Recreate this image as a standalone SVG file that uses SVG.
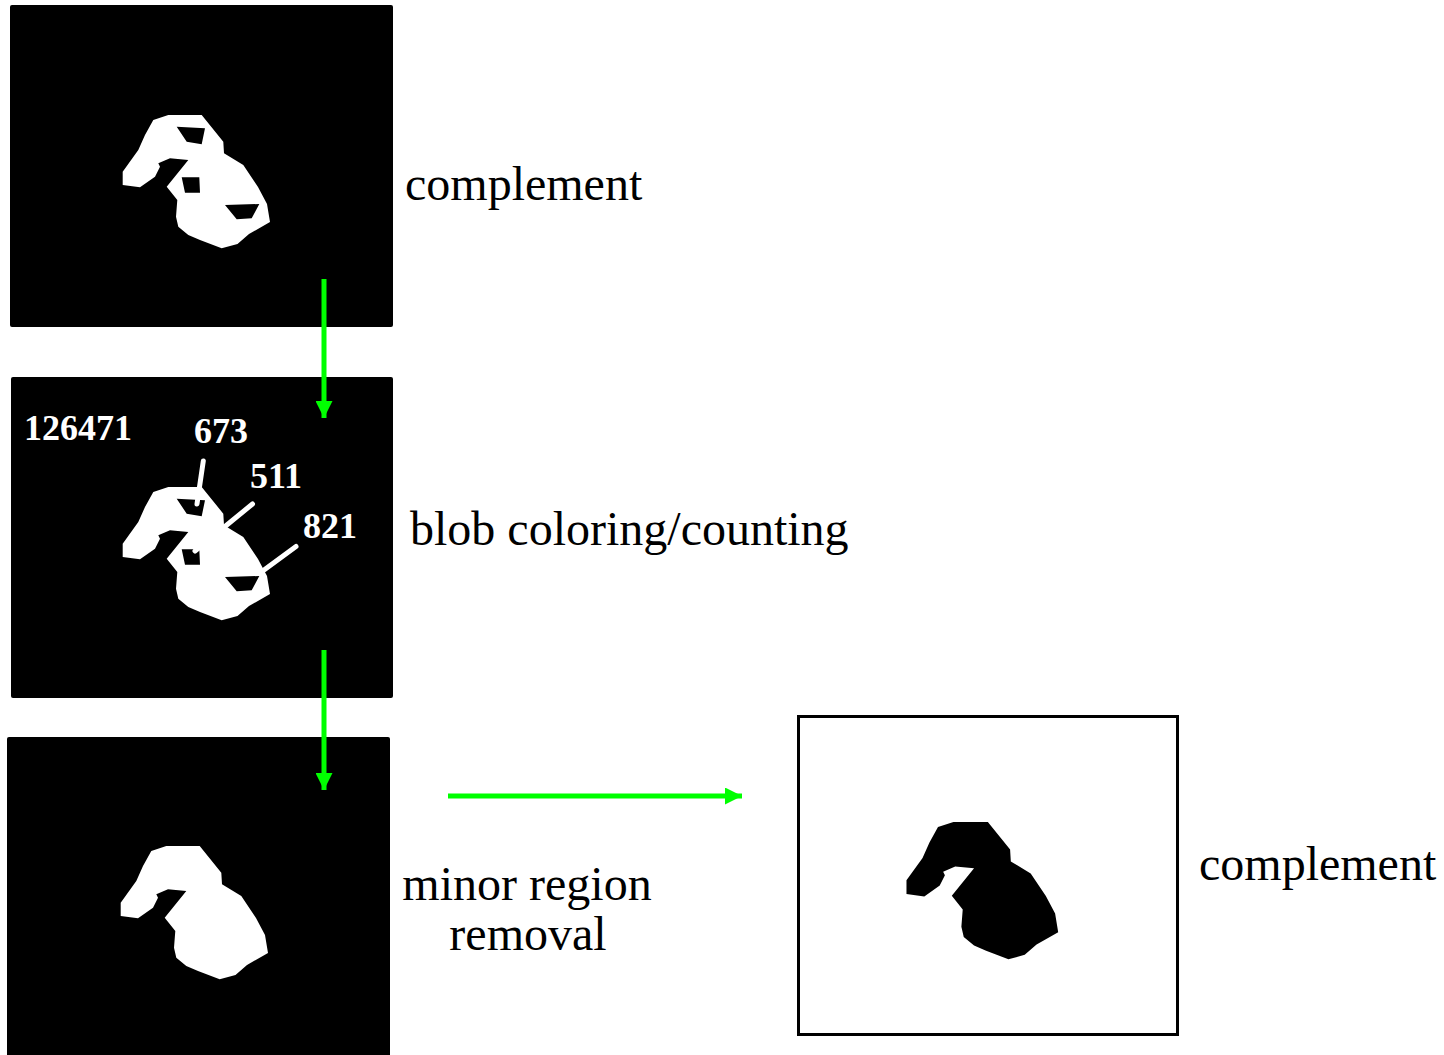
<svg xmlns="http://www.w3.org/2000/svg" width="1444" height="1055" viewBox="0 0 1444 1055">
<style>
.lbl{font-family:"Liberation Serif","Times New Roman",serif;font-size:48px;fill:#000}
.num{font-family:"Liberation Serif","Times New Roman",serif;font-size:36px;font-weight:bold;fill:#fff}
.ptr{stroke:#fff;stroke-width:5;stroke-linecap:round;fill:none}
.conn{stroke:#00ff00;stroke-width:5;fill:none}
</style>
<defs>
<path id="outer" d="M153.3,120 L168.3,115 L201.7,115 L223.3,141.7 L224,153.3 L243.3,165 L258,187 L267,204 L270,222 L249,234 L237.5,244 L221.7,248.3 L200,240 L188.3,235 L178.3,226.7 L176,216.7 L177.3,200 L166.7,186.7 L188.3,160 L170,158.3 L158.3,163.3 L160,166.7 L155,176.7 L140,187.3 L122.7,185 L122.7,171.7 L138.3,150 L145,135 Z"/>
<path id="holes" d="M176.7,126.7 L205,128.3 L201.7,144.3 L186.7,141.7 Z M181.7,177.3 L199.3,177.3 L200,192.7 L185,192.7 Z M225,205 L259.3,204 L251.7,218.3 L236.7,219.3 Z"/>
<marker id="ah" viewBox="0 0 10 10" refX="10" refY="5" markerWidth="3.4" markerHeight="3.4" orient="auto" markerUnits="strokeWidth">
<path d="M0,0 L10,5 L0,10 Z" fill="#00ff00"/>
</marker>
</defs>
<rect width="1444" height="1055" fill="#fff"/>

<g id="panel1">
<rect x="10" y="5" width="383" height="322" rx="2" fill="#000"/>
<use href="#outer" fill="#fff"/>
<use href="#holes" fill="#000"/>
<text class="lbl" x="405" y="200">complement</text>
</g>

<g id="panel2">
<rect x="11" y="377" width="382" height="321" rx="2" fill="#000"/>
<g transform="translate(0,372)">
<use href="#outer" fill="#fff"/>
<use href="#holes" fill="#000"/>
</g>
<line class="ptr" x1="203.3" y1="461" x2="197" y2="504"/>
<line class="ptr" x1="252.5" y1="504" x2="195" y2="551"/>
<line class="ptr" x1="296" y1="546.5" x2="264" y2="570"/>
<text class="num" x="24" y="440">126471</text>
<text class="num" x="194" y="443">673</text>
<text class="num" x="250" y="488">511</text>
<text class="num" x="303" y="538">821</text>
<text class="lbl" x="410" y="545">blob coloring/counting</text>
</g>

<g id="panel3">
<rect x="7" y="737" width="383" height="330" rx="2" fill="#000"/>
<use href="#outer" fill="#fff" transform="translate(-2,731)"/>
<text class="lbl" x="527" y="900" text-anchor="middle">minor region</text>
<text class="lbl" x="528" y="950" text-anchor="middle">removal</text>
</g>

<g id="panel4">
<rect x="798.5" y="716.5" width="379" height="318" fill="#fff" stroke="#000" stroke-width="3"/>
<use href="#outer" fill="#000" transform="translate(780.1,703.5) scale(1.03)"/>
<text class="lbl" x="1199" y="880">complement</text>
</g>

<g id="connectors">
<line class="conn" x1="324" y1="279" x2="324" y2="418" marker-end="url(#ah)"/>
<line class="conn" x1="324" y1="650" x2="324" y2="790" marker-end="url(#ah)"/>
<line class="conn" x1="448" y1="796" x2="742" y2="796" marker-end="url(#ah)"/>
</g>
</svg>
